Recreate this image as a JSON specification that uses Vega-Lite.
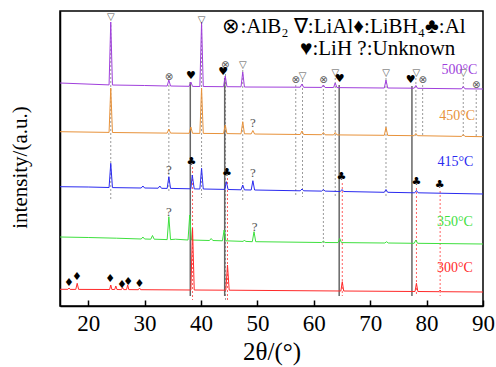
{
  "$schema": "https://vega.github.io/schema/vega-lite/v6.json",
  "autosize": "none",
  "padding": {"left": 60, "top": 11, "right": 13, "bottom": 61},
  "width": 423,
  "height": 295,
  "datasets": {
    "curves": [
      {"s":"500°C","x":15,"y":223},{"s":"500°C","x":23.7,"y":221.1},{"s":"500°C","x":24.0,"y":284},{"s":"500°C","x":24.3,"y":221},{"s":"500°C","x":30,"y":220.5},{"s":"500°C","x":34.0,"y":220},{"s":"500°C","x":34.3,"y":226},{"s":"500°C","x":34.6,"y":220},{"s":"500°C","x":37.9,"y":219.7},{"s":"500°C","x":38.2,"y":224},{"s":"500°C","x":38.5,"y":219.6},{"s":"500°C","x":39.8,"y":219.5},{"s":"500°C","x":40.1,"y":284},{"s":"500°C","x":40.4,"y":219.5},{"s":"500°C","x":44.0,"y":219.3},{"s":"500°C","x":44.3,"y":230},{"s":"500°C","x":44.6,"y":219.3},{"s":"500°C","x":47.1,"y":219.2},{"s":"500°C","x":47.4,"y":234},{"s":"500°C","x":47.7,"y":219},{"s":"500°C","x":57.6,"y":218.8},{"s":"500°C","x":57.9,"y":222},{"s":"500°C","x":58.2,"y":218.7},{"s":"500°C","x":61.4,"y":218.6},{"s":"500°C","x":61.7,"y":221},{"s":"500°C","x":62.0,"y":218.5},{"s":"500°C","x":63.5,"y":218.5},{"s":"500°C","x":63.8,"y":223},{"s":"500°C","x":64.1,"y":218.4},{"s":"500°C","x":72.5,"y":218},{"s":"500°C","x":72.8,"y":226},{"s":"500°C","x":73.1,"y":218},{"s":"500°C","x":77.8,"y":217.8},{"s":"500°C","x":78.1,"y":220.5},{"s":"500°C","x":78.4,"y":217.7},{"s":"500°C","x":86.2,"y":217.2},{"s":"500°C","x":86.5,"y":219.5},{"s":"500°C","x":86.8,"y":217.2},{"s":"500°C","x":90,"y":217},

      {"s":"450°C","x":15,"y":174.3},{"s":"450°C","x":23.7,"y":173.6},{"s":"450°C","x":24.0,"y":218},{"s":"450°C","x":24.3,"y":173.5},{"s":"450°C","x":34.0,"y":172.9},{"s":"450°C","x":34.3,"y":177},{"s":"450°C","x":34.6,"y":172.9},{"s":"450°C","x":37.9,"y":172.7},{"s":"450°C","x":38.2,"y":179},{"s":"450°C","x":38.5,"y":172.7},{"s":"450°C","x":39.8,"y":172.6},{"s":"450°C","x":40.1,"y":218},{"s":"450°C","x":40.4,"y":172.6},{"s":"450°C","x":44.0,"y":172.4},{"s":"450°C","x":44.3,"y":181},{"s":"450°C","x":44.6,"y":172.4},{"s":"450°C","x":47.1,"y":172.2},{"s":"450°C","x":47.4,"y":184.3},{"s":"450°C","x":47.7,"y":172.2},{"s":"450°C","x":48.9,"y":172.1},{"s":"450°C","x":49.2,"y":175.5},{"s":"450°C","x":49.5,"y":172},{"s":"450°C","x":57.6,"y":171.5},{"s":"450°C","x":57.9,"y":175},{"s":"450°C","x":58.2,"y":171.5},{"s":"450°C","x":61.4,"y":171.3},{"s":"450°C","x":61.7,"y":173.5},{"s":"450°C","x":62.0,"y":171.2},{"s":"450°C","x":63.5,"y":171.1},{"s":"450°C","x":63.8,"y":173.5},{"s":"450°C","x":64.1,"y":171.1},{"s":"450°C","x":72.5,"y":170.7},{"s":"450°C","x":72.8,"y":178.7},{"s":"450°C","x":73.1,"y":170.6},{"s":"450°C","x":77.8,"y":170.3},{"s":"450°C","x":78.1,"y":172.5},{"s":"450°C","x":78.4,"y":170.3},{"s":"450°C","x":86.2,"y":169.6},{"s":"450°C","x":86.5,"y":171.5},{"s":"450°C","x":86.8,"y":169.6},{"s":"450°C","x":90,"y":169.3},

      {"s":"415°C","x":15,"y":119.3},{"s":"415°C","x":20,"y":119},{"s":"415°C","x":23.7,"y":118.5},{"s":"415°C","x":24.0,"y":142.7},{"s":"415°C","x":24.3,"y":118.4},{"s":"415°C","x":29.4,"y":118},{"s":"415°C","x":29.7,"y":120},{"s":"415°C","x":30.0,"y":118},{"s":"415°C","x":32.4,"y":117.8},{"s":"415°C","x":32.7,"y":120},{"s":"415°C","x":33.0,"y":117.7},{"s":"415°C","x":34.0,"y":117.6},{"s":"415°C","x":34.3,"y":129.3},{"s":"415°C","x":34.6,"y":117.6},{"s":"415°C","x":38.2,"y":117.2},{"s":"415°C","x":38.45,"y":131},{"s":"415°C","x":38.8,"y":117.1},{"s":"415°C","x":39.8,"y":117},{"s":"415°C","x":40.1,"y":137.7},{"s":"415°C","x":40.4,"y":117},{"s":"415°C","x":44.2,"y":116.6},{"s":"415°C","x":44.5,"y":124.3},{"s":"415°C","x":44.8,"y":116.5},{"s":"415°C","x":47.1,"y":116.2},{"s":"415°C","x":47.4,"y":121},{"s":"415°C","x":47.7,"y":116.1},{"s":"415°C","x":48.9,"y":116},{"s":"415°C","x":49.2,"y":125.3},{"s":"415°C","x":49.5,"y":116},{"s":"415°C","x":57.6,"y":115.2},{"s":"415°C","x":57.9,"y":117},{"s":"415°C","x":58.2,"y":115.2},{"s":"415°C","x":61.4,"y":114.9},{"s":"415°C","x":61.7,"y":116.5},{"s":"415°C","x":62.0,"y":114.9},{"s":"415°C","x":64.7,"y":114.5},{"s":"415°C","x":65.0,"y":116.5},{"s":"415°C","x":65.3,"y":114.5},{"s":"415°C","x":72.5,"y":113.7},{"s":"415°C","x":72.8,"y":116.5},{"s":"415°C","x":73.1,"y":113.7},{"s":"415°C","x":77.9,"y":113.2},{"s":"415°C","x":78.2,"y":115.5},{"s":"415°C","x":78.5,"y":113.2},{"s":"415°C","x":90,"y":112},

      {"s":"350°C","x":15,"y":69},{"s":"350°C","x":20,"y":68.5},{"s":"350°C","x":25,"y":67.8},{"s":"350°C","x":29.4,"y":67},{"s":"350°C","x":29.7,"y":69},{"s":"350°C","x":30.0,"y":67},{"s":"350°C","x":31.1,"y":66.8},{"s":"350°C","x":31.4,"y":70.5},{"s":"350°C","x":31.7,"y":66.8},{"s":"350°C","x":34.0,"y":66.4},{"s":"350°C","x":34.3,"y":89.3},{"s":"350°C","x":34.6,"y":66.4},{"s":"350°C","x":35.5,"y":66.8},{"s":"350°C","x":37.7,"y":66},{"s":"350°C","x":38.0,"y":91},{"s":"350°C","x":38.3,"y":66},{"s":"350°C","x":41.5,"y":65.5},{"s":"350°C","x":41.8,"y":67.5},{"s":"350°C","x":42.1,"y":65.5},{"s":"350°C","x":43.8,"y":65.2},{"s":"350°C","x":44.1,"y":76},{"s":"350°C","x":44.4,"y":65.2},{"s":"350°C","x":47.5,"y":64.6},{"s":"350°C","x":47.7,"y":66},{"s":"350°C","x":47.9,"y":64.6},{"s":"350°C","x":49.1,"y":64.3},{"s":"350°C","x":49.4,"y":74.3},{"s":"350°C","x":49.7,"y":64.3},{"s":"350°C","x":61.4,"y":63.5},{"s":"350°C","x":61.7,"y":64.8},{"s":"350°C","x":62.0,"y":63.5},{"s":"350°C","x":64.3,"y":63.4},{"s":"350°C","x":64.6,"y":67.5},{"s":"350°C","x":64.9,"y":63.4},{"s":"350°C","x":72.6,"y":63},{"s":"350°C","x":72.9,"y":64.3},{"s":"350°C","x":73.2,"y":63},{"s":"350°C","x":77.8,"y":62.7},{"s":"350°C","x":78.1,"y":66},{"s":"350°C","x":78.4,"y":62.7},{"s":"350°C","x":90,"y":62},

      {"s":"300°C","x":15,"y":16.7},{"s":"300°C","x":16.4,"y":16.7},{"s":"300°C","x":16.6,"y":18},{"s":"300°C","x":16.8,"y":16.6},{"s":"300°C","x":17.8,"y":16.6},{"s":"300°C","x":18.05,"y":22.7},{"s":"300°C","x":18.3,"y":16.6},{"s":"300°C","x":23.8,"y":16.5},{"s":"300°C","x":24.0,"y":21},{"s":"300°C","x":24.2,"y":16.5},{"s":"300°C","x":24.7,"y":16.5},{"s":"300°C","x":24.9,"y":20},{"s":"300°C","x":25.1,"y":16.5},{"s":"300°C","x":25.9,"y":16.4},{"s":"300°C","x":26.1,"y":18.5},{"s":"300°C","x":26.3,"y":16.4},{"s":"300°C","x":26.8,"y":16.4},{"s":"300°C","x":27.0,"y":21},{"s":"300°C","x":27.2,"y":16.4},{"s":"300°C","x":28.9,"y":16.3},{"s":"300°C","x":29.1,"y":18},{"s":"300°C","x":29.3,"y":16.3},{"s":"300°C","x":38.2,"y":16},{"s":"300°C","x":38.5,"y":77.7},{"s":"300°C","x":38.8,"y":16},{"s":"300°C","x":44.4,"y":15.8},{"s":"300°C","x":44.7,"y":41},{"s":"300°C","x":45.0,"y":15.8},{"s":"300°C","x":64.8,"y":15},{"s":"300°C","x":65.05,"y":24.3},{"s":"300°C","x":65.3,"y":15},{"s":"300°C","x":77.95,"y":14.5},{"s":"300°C","x":78.2,"y":22.7},{"s":"300°C","x":78.45,"y":14.5},{"s":"300°C","x":82.2,"y":14.3},{"s":"300°C","x":82.4,"y":16},{"s":"300°C","x":82.6,"y":14.3},{"s":"300°C","x":90,"y":14}
    ],
    "refs": [
      {"k":"dot","x":24.0,"y1":281,"y2":106},
      {"k":"dot","x":34.3,"y1":221,"y2":114},
      {"k":"dot","x":40.1,"y1":281,"y2":108},
      {"k":"dot","x":44.35,"y1":236,"y2":6},
      {"k":"dot","x":47.4,"y1":236,"y2":106},
      {"k":"dot","x":56.8,"y1":221,"y2":109},
      {"k":"dot","x":58.0,"y1":226,"y2":109},
      {"k":"dot","x":61.7,"y1":221,"y2":58},
      {"k":"dot","x":63.8,"y1":228,"y2":109},
      {"k":"dot","x":72.8,"y1":228,"y2":109},
      {"k":"dot","x":78.1,"y1":228,"y2":169},
      {"k":"dot","x":79.3,"y1":221,"y2":169},
      {"k":"dot","x":86.5,"y1":228,"y2":169},
      {"k":"dot","x":88.8,"y1":216,"y2":169},
      {"k":"LiH","x":38.1,"y1":224,"y2":10},
      {"k":"LiH","x":44.2,"y1":228,"y2":10},
      {"k":"LiH","x":64.5,"y1":221,"y2":10},
      {"k":"LiH","x":77.4,"y1":220,"y2":10},
      {"k":"Al","x":38.5,"y1":139,"y2":6},
      {"k":"Al","x":44.7,"y1":128,"y2":6},
      {"k":"Al","x":65.05,"y1":123,"y2":10},
      {"k":"Al","x":78.2,"y1":118,"y2":10},
      {"k":"Al","x":82.4,"y1":115,"y2":10}
    ],
    "marks": [
      {"p":"LiAl","t":"▽","x":24.0,"y":289},
      {"p":"LiAl","t":"▽","x":40.1,"y":286},
      {"p":"AlB2","t":"⊗","x":34.3,"y":229},
      {"p":"LiH","t":"♥","x":38.2,"y":230},
      {"p":"AlB2","t":"⊗","x":44.3,"y":241},
      {"p":"LiH","t":"♥","x":43.95,"y":234},
      {"p":"LiAl","t":"▽","x":47.4,"y":241},
      {"p":"AlB2","t":"⊗","x":56.8,"y":226},
      {"p":"LiAl","t":"▽","x":58.0,"y":230},
      {"p":"AlB2","t":"⊗","x":61.7,"y":226},
      {"p":"LiAl","t":"▽","x":63.8,"y":233},
      {"p":"LiH","t":"♥","x":64.6,"y":227},
      {"p":"LiAl","t":"▽","x":72.8,"y":233},
      {"p":"LiH","t":"♥","x":77.2,"y":226},
      {"p":"LiAl","t":"▽","x":78.2,"y":233},
      {"p":"AlB2","t":"⊗","x":79.3,"y":226},
      {"p":"LiAl","t":"▽","x":86.5,"y":233},
      {"p":"AlB2","t":"⊗","x":88.8,"y":221},
      {"p":"Unknown","t":"?","x":49.2,"y":183},
      {"p":"Unknown","t":"?","x":34.3,"y":136},
      {"p":"Al","t":"♣","x":38.3,"y":144.3},
      {"p":"Al","t":"♣","x":44.6,"y":132.7},
      {"p":"Unknown","t":"?","x":49.2,"y":132.7},
      {"p":"Al","t":"♣","x":64.9,"y":129.3},
      {"p":"Al","t":"♣","x":78.2,"y":124.3},
      {"p":"Al","t":"♣","x":82.3,"y":121},
      {"p":"Unknown","t":"?","x":34.3,"y":94.3},
      {"p":"Unknown","t":"?","x":49.5,"y":79},
      {"p":"LiBH4","t":"♦","x":16.6,"y":23.3},
      {"p":"LiBH4","t":"♦","x":18.0,"y":29.3},
      {"p":"LiBH4","t":"♦","x":23.9,"y":26.7},
      {"p":"LiBH4","t":"♦","x":26.0,"y":21},
      {"p":"LiBH4","t":"♦","x":27.1,"y":24.3},
      {"p":"LiBH4","t":"♦","x":29.1,"y":22}
    ],
    "labels": [
      {"s":"500°C","x":89.0,"y":236},
      {"s":"450°C","x":88.6,"y":190},
      {"s":"415°C","x":88.3,"y":144.3},
      {"s":"350°C","x":88.2,"y":84.3},
      {"s":"300°C","x":88.2,"y":37.7}
    ],
    "legend": [
      {"t":"⊗:AlB₂ ∇:LiAl♦:LiBH₄♣:Al","x":43.8,"y":273},
      {"t":"♥:LiH ?:Unknown","x":57.55,"y":251}
    ]
  },
  "layer": [
    {
      "data": {"name":"refs"},
      "transform": [{"filter":"datum.k === 'dot'"}],
      "mark": {"type":"rule","color":"#9a9a9a","strokeWidth":1,"strokeDash":[2,2]},
      "encoding": {
        "x": {"field":"x","type":"quantitative","scale":{"domain":[15,90],"nice":false,"zero":false},
          "axis": {"title":"2θ/(°)","values":[20,25,30,35,40,45,50,55,60,65,70,75,80,85,90],
            "labelExpr":"datum.value % 10 === 0 ? datum.label : ''",
            "tickSize":{"condition":{"test":"datum.value % 10 === 0","value":-6},"value":-3}}},
        "y": {"field":"y1","type":"quantitative","scale":{"domain":[0,295],"nice":false,"zero":false},
          "axis": {"title":"intensity/(a.u.)","labels":false,"ticks":false,"titleY":156}},
        "y2": {"field":"y2"}
      }
    },
    {
      "data": {"name":"refs"},
      "transform": [{"filter":"datum.k === 'LiH'"}],
      "mark": {"type":"rule","color":"#666666","strokeWidth":1.5},
      "encoding": {"x":{"field":"x","type":"quantitative"},"y":{"field":"y1","type":"quantitative"},"y2":{"field":"y2"}}
    },
    {
      "data": {"name":"refs"},
      "transform": [{"filter":"datum.k === 'Al'"}],
      "mark": {"type":"rule","color":"#ff6060","strokeWidth":1,"strokeDash":[2,2]},
      "encoding": {"x":{"field":"x","type":"quantitative"},"y":{"field":"y1","type":"quantitative"},"y2":{"field":"y2"}}
    },
    {
      "data": {"name":"curves"},
      "mark": {"type":"line","strokeWidth":1,"interpolate":"linear"},
      "encoding": {
        "x":{"field":"x","type":"quantitative"},
        "y":{"field":"y","type":"quantitative"},
        "color":{"field":"s","type":"nominal","legend":null,
          "scale":{"domain":["500°C","450°C","415°C","350°C","300°C"],"range":["#a03fdc","#e8923a","#2a2af0","#3ee03e","#ff2a2a"]}}
      }
    },
    {
      "data": {"name":"marks"},
      "transform": [{"filter":"datum.p === 'LiAl' || datum.p === 'AlB2'"}],
      "mark": {"type":"text","font":"DejaVu Sans","fontSize":10,"color":"#555555","align":"center","baseline":"middle"},
      "encoding": {"x":{"field":"x","type":"quantitative"},"y":{"field":"y","type":"quantitative"},"text":{"field":"t"}}
    },
    {
      "data": {"name":"marks"},
      "transform": [{"filter":"datum.p === 'Unknown'"}],
      "mark": {"type":"text","font":"Liberation Serif","fontSize":13,"color":"#555555","align":"center","baseline":"middle"},
      "encoding": {"x":{"field":"x","type":"quantitative"},"y":{"field":"y","type":"quantitative"},"text":{"field":"t"}}
    },
    {
      "data": {"name":"marks"},
      "transform": [{"filter":"datum.p === 'LiH' || datum.p === 'Al' || datum.p === 'LiBH4'"}],
      "mark": {"type":"text","font":"DejaVu Sans","fontSize":11,"color":"black","align":"center","baseline":"middle"},
      "encoding": {"x":{"field":"x","type":"quantitative"},"y":{"field":"y","type":"quantitative"},"text":{"field":"t"}}
    },
    {
      "data": {"name":"labels"},
      "mark": {"type":"text","font":"Liberation Serif","fontSize":14,"align":"right","baseline":"middle"},
      "encoding": {"x":{"field":"x","type":"quantitative"},"y":{"field":"y","type":"quantitative"},"text":{"field":"s"},
        "color":{"field":"s","type":"nominal","legend":null}}
    },
    {
      "data": {"name":"legend"},
      "mark": {"type":"text","font":"Liberation Serif","fontSize":21,"color":"black","align":"left","baseline":"alphabetic"},
      "encoding": {"x":{"field":"x","type":"quantitative"},"y":{"field":"y","type":"quantitative"},"text":{"field":"t"}}
    }
  ],
  "config": {
    "view": {"stroke":"black","strokeWidth":1.5},
    "axis": {
      "grid": false,
      "domainColor": "black",
      "domainWidth": 1.5,
      "tickColor": "black",
      "tickWidth": 1.5,
      "labelFont": "Liberation Serif",
      "labelFontSize": 23,
      "labelColor": "black",
      "labelOverlap": false,
      "labelFlush": false,
      "titleFont": "Liberation Serif",
      "titleFontWeight": "normal",
      "titleColor": "black"
    },
    "axisX": {"labelPadding": 12, "titleFontSize": 25, "titlePadding": 4},
    "axisY": {"titleFontSize": 21, "titlePadding": 30}
  }
}
